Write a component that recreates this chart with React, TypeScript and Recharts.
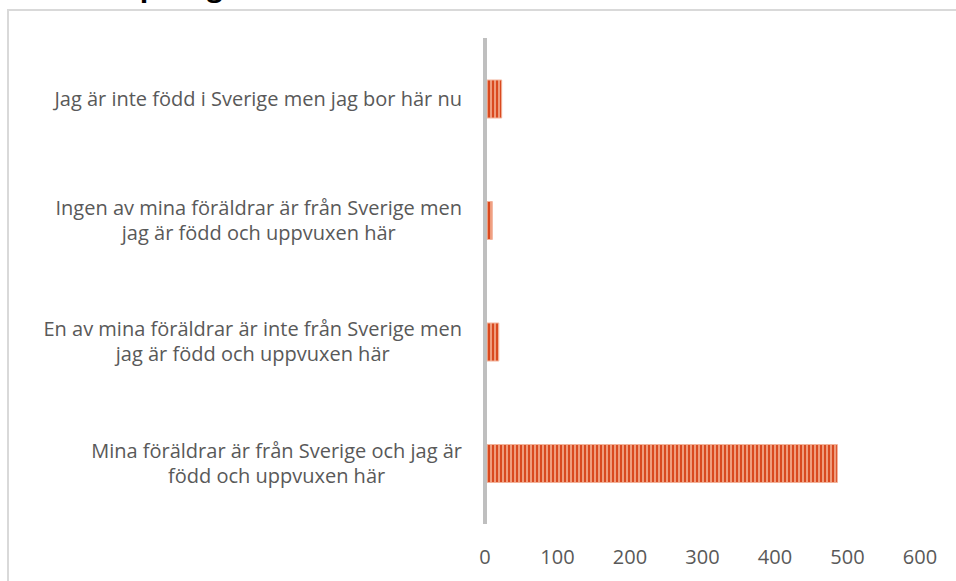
import React from 'react';
import { BarChart, Bar, XAxis, YAxis } from 'recharts';

// categories top to bottom, "\n" marks the line break in the label
const categories = [
  'Jag är inte född i Sverige men jag bor här nu',
  'Ingen av mina föräldrar är från Sverige men\njag är född och uppvuxen här',
  'En av mina föräldrar är inte från Sverige men\njag är född och uppvuxen här',
  'Mina föräldrar är från Sverige och jag är\nfödd och uppvuxen här',
];
const counts = [23, 10, 19, 486];
const xTicks = [0, 100, 200, 300, 400, 500, 600];
const title = 'Ursprung';

const data = categories.map((name, i) => ({ name, value: counts[i] }));

const FONT = '"Open Sans", Lato, sans-serif';
const LABEL_SIZE = 20;
const LINE_H = 25;

let ctx: CanvasRenderingContext2D | null = null;
const measure = (s: string) => {
  if (!ctx) {
    ctx = document.createElement('canvas').getContext('2d');
  }
  if (!ctx) return s.length * 9;
  ctx.font = `${LABEL_SIZE}px ${FONT}`;
  return ctx.measureText(s).width;
};

const CategoryTick = (props: any) => {
  const { x, y, payload } = props;
  const lines: string[] = String(payload.value).split('\n');
  const w = Math.max(...lines.map(measure));
  const cx = x - w / 2;
  const top = y - ((lines.length - 1) * LINE_H) / 2;
  return (
    <g>
      {lines.map((ln, i) => (
        <text
          key={i}
          x={cx}
          y={top + i * LINE_H}
          dy="0.35em"
          textAnchor="middle"
          fill="#595959"
          fontSize={LABEL_SIZE}
          fontFamily={FONT}
        >
          {ln}
        </text>
      ))}
    </g>
  );
};

export default function App() {
  return (
    <div
      style={{
        position: 'relative',
        width: 956,
        height: 581,
        overflow: 'hidden',
        background: '#fff',
        fontFamily: FONT,
      }}
    >
      <style>{'body { margin: 0; }'}</style>
      {/* frame of the chart area, cut by the picture's edges */}
      <div
        style={{
          position: 'absolute',
          left: 7,
          top: 9,
          right: 0,
          bottom: 0,
          borderTop: '2px solid #d9d9d9',
          borderLeft: '2px solid #d9d9d9',
        }}
      />
      <div
        style={{
          position: 'absolute',
          left: 92,
          top: -29,
          fontSize: 28,
          fontWeight: 700,
          lineHeight: '28px',
          color: '#000',
          whiteSpace: 'nowrap',
        }}
      >
        {title}
      </div>
      <div style={{ position: 'absolute', left: 0, top: 0 }}>
        <BarChart
          width={956}
          height={581}
          data={data}
          layout="vertical"
          margin={{ top: 38, right: 36, bottom: 17, left: 0 }}
        >
          <defs>
            <pattern id="stripes" patternUnits="userSpaceOnUse" width="4" height="8">
              <rect x="0" y="0" width="4" height="8" fill="#ef9c7c" />
              <rect x="0" y="0" width="2" height="8" fill="#d9491f" />
            </pattern>
          </defs>
          <XAxis
            type="number"
            domain={[0, 600]}
            ticks={xTicks}
            axisLine={false}
            tickLine={false}
            tickSize={0}
            tickMargin={26}
            height={40}
            tick={{ fill: '#595959', fontSize: 20, fontFamily: FONT }}
          />
          <YAxis
            type="category"
            dataKey="name"
            width={485}
            axisLine={{ stroke: '#bfbfbf', strokeWidth: 4 }}
            tickLine={false}
            tickSize={0}
            tickMargin={23}
            tick={<CategoryTick />}
            interval={0}
          />
          <Bar
            dataKey="value"
            fill="url(#stripes)"
            stroke="#f2b39b"
            strokeWidth={1}
            barSize={38}
            isAnimationActive={false}
          />
        </BarChart>
      </div>
    </div>
  );
}
